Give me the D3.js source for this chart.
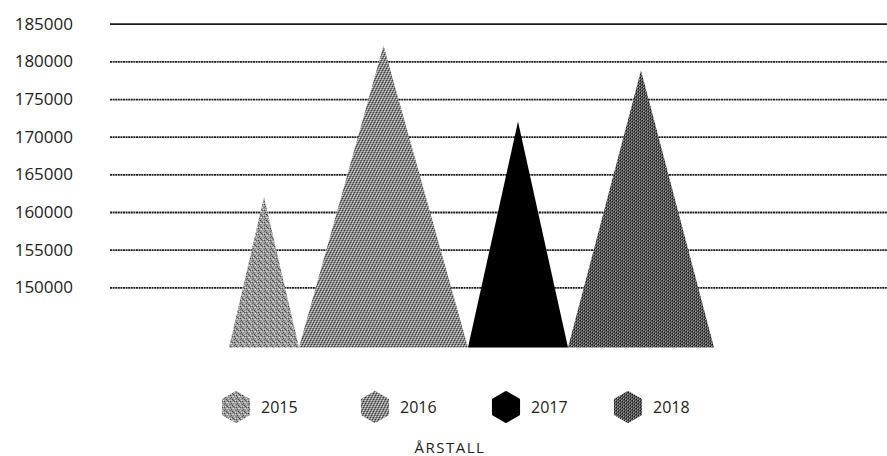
<!DOCTYPE html>
<html>
<head>
<meta charset="utf-8">
<script src="https://cdn.jsdelivr.net/npm/d3@7/dist/d3.min.js"></script>
<style>
  html, body { margin: 0; padding: 0; background: #fff; }
  svg { display: block; }
  text { font-family: "Open Sans", "Noto Sans", sans-serif; fill: #222; }
</style>
</head>
<body>
<svg id="chart" width="887" height="456"></svg>
<script>
// ---- data ----
const years = ["2015", "2016", "2017", "2018"];
const values = [162000, 182100, 172000, 178800];
const spread = [70, 169, 100, 146];   // relative base width of each peak
const yTicks = [150000, 155000, 160000, 165000, 170000, 175000, 180000, 185000];
const axisTitle = "ÅRSTALL";

// ---- setup ----
const W = 887, H = 456;
const svg = d3.select("#chart");
const defs = svg.append("defs");

// dither-like textures
function makePattern(id, base, dots) {
  const p = defs.append("pattern").attr("id", id)
    .attr("patternUnits", "userSpaceOnUse").attr("width", 6).attr("height", 6);
  p.append("rect").attr("width", 6).attr("height", 6).attr("fill", base);
  dots.forEach(([x, y, c]) => p.append("rect").attr("x", x).attr("y", y)
    .attr("width", 1).attr("height", 1).attr("fill", c));
  return `url(#${id})`;
}
const lightDots = [[0,0,"#444"],[3,1,"#ddd"],[1,2,"#555"],[4,3,"#d0d0d0"],[2,4,"#444"],[5,5,"#ddd"],[0,3,"#666"],[3,5,"#555"],[5,1,"#bbb"],[1,5,"#ccc"],[4,0,"#555"],[2,1,"#ccc"]];
const midDots = [[0,0,"#333"],[1,1,"#ccc"],[2,2,"#333"],[3,3,"#ccc"],[4,4,"#333"],[5,5,"#ccc"],[3,0,"#444"],[4,1,"#ddd"],[5,2,"#444"],[0,3,"#ddd"],[1,4,"#444"],[2,5,"#ddd"]];
const darkDots = [[0,0,"#111"],[1,0,"#999"],[2,1,"#111"],[3,1,"#aaa"],[4,2,"#111"],[5,2,"#999"],[0,3,"#111"],[1,3,"#aaa"],[2,4,"#111"],[3,4,"#999"],[4,5,"#111"],[5,5,"#aaa"]];
const fills = [
  makePattern("p2015", "#999", lightDots),
  makePattern("p2016", "#8a8a8a", midDots),
  "#000",
  makePattern("p2018", "#575757", darkDots)
];

// ---- scales ----
const y = d3.scaleLinear().domain([142000, 185000]).range([347.6, 23.7]);
const cum = [0];
spread.forEach((s, i) => cum.push(cum[i] + s));
const x = d3.scaleLinear().domain([0, d3.sum(spread)]).range([229, 714]);

// ---- grid / axis ----
const axisG = svg.append("g").attr("transform", "translate(110,0)")
  .call(d3.axisLeft(y).tickValues(yTicks).tickFormat(d3.format("d"))
    .tickSize(-(W - 110)).tickPadding(37));
axisG.select(".domain").remove();
axisG.selectAll(".tick line")
  .attr("stroke", "#1e1e1e").attr("stroke-width", 1.8)
  .attr("stroke-dasharray", d => d === 185000 ? null : "2,0.6");
axisG.selectAll(".tick text")
  .attr("font-size", 17).attr("fill", "#222")
  .style("font-family", '"Open Sans", sans-serif');

// ---- peaks ----
const base = y.domain()[0];
svg.append("g").selectAll("path").data(values).join("path")
  .attr("d", (v, i) => {
    const x0 = x(cum[i]), x1 = x(cum[i + 1]), xm = (x0 + x1) / 2;
    return `M${x0},${y(base)}L${xm},${y(v)}L${x1},${y(base)}Z`;
  })
  .attr("fill", (v, i) => fills[i]);

// ---- legend ----
const legendX = [236, 375, 506, 628];
const hex = r => d3.range(6).map(k => {
  const a = Math.PI / 180 * (60 * k - 90);
  return [r * Math.cos(a), r * Math.sin(a)];
});
const lg = svg.append("g").selectAll("g").data(years).join("g")
  .attr("transform", (d, i) => `translate(${legendX[i]},407)`);
lg.append("polygon")
  .attr("points", hex(14.5).map(p => p.join(",")).join(" "))
  .attr("fill", (d, i) => fills[i])
  .attr("stroke", (d, i) => fills[i])
  .attr("stroke-width", 3).attr("stroke-linejoin", "round");
lg.append("text").attr("x", 25).attr("y", 5.5)
  .attr("font-size", 16).text(d => d);

svg.append("text").attr("x", 450).attr("y", 453)
  .attr("text-anchor", "middle").attr("font-size", 15)
  .attr("letter-spacing", 1.5).text(axisTitle);
</script>
</body>
</html>
